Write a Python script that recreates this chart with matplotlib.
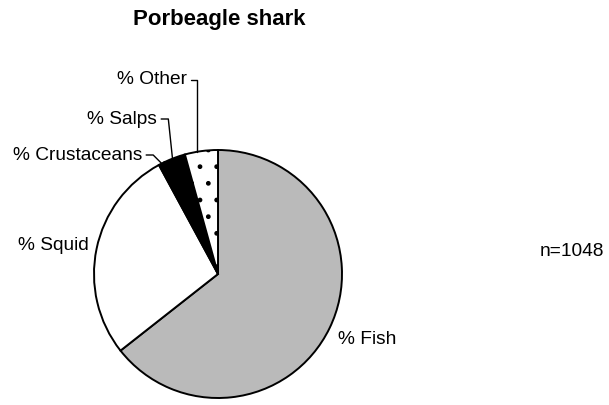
import numpy as np
import matplotlib
matplotlib.use("Agg")
import matplotlib.pyplot as plt

plt.rcParams['font.family'] = ['Liberation Sans', 'DejaVu Sans']

# diet composition, percent of total
categories = ["% Fish", "% Squid", "% Crustaceans", "% Salps", "% Other"]
values = [64.4, 27.7, 0.8, 2.8, 4.3]
n_label = "n=1048"
title = "Porbeagle shark"

fig = plt.figure(figsize=(6.09, 4.05), dpi=100)
ax = fig.add_axes([0, 0, 1, 1])

cx, cy, r = 218, 405 - 274, 124
wedges, _ = ax.pie(values, startangle=90, counterclock=False,
                   center=(cx, cy), radius=r,
                   colors=['#bababa', 'white', 'black', 'black', 'white'],
                   wedgeprops=dict(edgecolor='black', linewidth=1.4))
wedges[4].set_hatch('.')
ax.set_xlim(0, 609)
ax.set_ylim(0, 405)
ax.set_aspect('equal')
ax.axis('off')


def edge_point(w, frac=0.5):
    ang = np.deg2rad(w.theta1 + (w.theta2 - w.theta1) * frac)
    return cx + r * np.cos(ang), cy + r * np.sin(ang)


fs = 13.8
line = dict(arrowstyle='-', color='black', lw=1.0, shrinkA=1, shrinkB=0)

# Fish and Squid labels sit next to the pie
ax.text(338, 405 - 340, categories[0], fontsize=fs, va='center', ha='left')
ax.text(89, 405 - 245, categories[1], fontsize=fs, va='center', ha='right')

# labels with leader lines
ax.annotate(categories[2], xy=edge_point(wedges[2], 0.5), xytext=(142, 405 - 155),
            fontsize=fs, ha='right', va='center',
            arrowprops=dict(line, connectionstyle='angle,angleA=0,angleB=135,rad=0'))
ax.annotate(categories[3], xy=edge_point(wedges[3], 0.6), xytext=(157, 405 - 119),
            fontsize=fs, ha='right', va='center',
            arrowprops=dict(line, connectionstyle='angle,angleA=0,angleB=96,rad=0'))
ax.annotate(categories[4], xy=edge_point(wedges[4], 0.63), xytext=(187, 405 - 80),
            fontsize=fs, ha='right', va='center',
            arrowprops=dict(line, connectionstyle='angle,angleA=0,angleB=90,rad=0'))

ax.text(540, 405 - 252, n_label, fontsize=fs, va='center', ha='left')
ax.text(219, 405 - 19, title, fontsize=16, fontweight='bold', ha='center', va='center')

fig.savefig("out.png", dpi=100)
